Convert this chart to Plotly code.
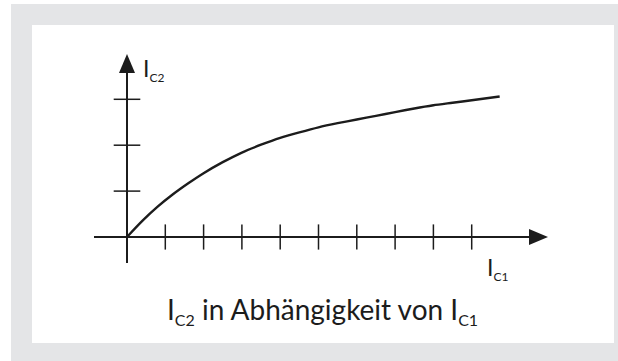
import plotly.graph_objects as go

# Characteristic curve I_C2 as a function of I_C1 (arbitrary units)
ic1_values = [0, 0.4, 0.8, 1.2, 1.6, 2.0, 2.5, 3.0, 3.5, 4.0, 4.5, 5.0, 5.5, 6.0, 6.5, 7.0, 7.5, 8.0, 8.5, 9.0, 9.73]
ic2_values = [0, 0.35, 0.66, 0.93, 1.17, 1.39, 1.63, 1.84, 2.01, 2.16, 2.28, 2.39, 2.48, 2.56, 2.64, 2.72, 2.80, 2.87, 2.925, 2.98, 3.06]

# Unlabelled tick marks on both axes
ic1_ticks = [1, 2, 3, 4, 5, 6, 7, 8, 9]
ic2_ticks = [1, 2, 3]


def sub(main, index, size):
    return f"{main}<sub><span style='font-size:{size}px'>{index}</span></sub>"


# Texts
y_label = sub("I", "C2", 12)
x_label = sub("I", "C1", 12)
caption = f"{sub('I', 'C2', 16)} in Abhängigkeit von {sub('I', 'C1', 16)}"

W, H = 618, 361
INK = "#1c1c1c"
FRAME = "#e4e5e7"

# pixel geometry of the coordinate system
ORIGIN_X, ORIGIN_Y = 127, 237      # px position of (0, 0)
SX, SY = 38.3, 45.9                # px per unit
x_range = [-ORIGIN_X / SX, (W - ORIGIN_X) / SX]
y_range = [-(H - ORIGIN_Y) / SY, ORIGIN_Y / SY]


def ux(px):
    """horizontal pixel offset -> data units"""
    return px / SX


def uy(px):
    """vertical pixel offset -> data units"""
    return px / SY


x_tip = x_range[0] + ux(548)
y_tip = y_range[1] - uy(54)
x_start = x_range[0] + ux(94)
y_start = y_range[1] - uy(263)
head_len, head_half = 19, 8

fig = go.Figure()

# curve
fig.add_trace(go.Scatter(
    x=ic1_values, y=ic2_values, mode="lines",
    line=dict(color=INK, width=2.4, shape="spline", smoothing=0.7),
    hoverinfo="skip", showlegend=False,
))
# tick marks
fig.add_trace(go.Scatter(
    x=ic1_ticks, y=[0] * len(ic1_ticks), mode="markers",
    marker=dict(symbol="line-ns", size=18, line=dict(color=INK, width=1.5)),
    hoverinfo="skip", showlegend=False,
))
fig.add_trace(go.Scatter(
    x=[0] * len(ic2_ticks), y=ic2_ticks, mode="markers",
    marker=dict(symbol="line-ew", size=19, line=dict(color=INK, width=1.5)),
    hoverinfo="skip", showlegend=False,
))

shapes = [
    # grey frame and white card
    dict(type="rect", xref="paper", yref="paper", x0=11 / W, x1=1, y0=0, y1=1 - 4 / H,
         fillcolor=FRAME, line=dict(width=0), layer="below"),
    dict(type="rect", xref="paper", yref="paper", x0=32 / W, x1=614 / W, y0=1 - 343 / H, y1=1 - 25 / H,
         fillcolor="white", line=dict(width=0), layer="below"),
    # axis lines
    dict(type="line", xref="x", yref="y", x0=x_start, x1=x_tip - ux(head_len) + ux(2), y0=0, y1=0,
         line=dict(color=INK, width=2)),
    dict(type="line", xref="x", yref="y", x0=0, x1=0, y0=y_start, y1=y_tip - uy(head_len) + uy(2),
         line=dict(color=INK, width=2)),
    # arrow heads
    dict(type="path", xref="x", yref="y",
         path=(f"M {x_tip} 0 L {x_tip - ux(head_len)} {uy(head_half)} "
               f"L {x_tip - ux(head_len)} {-uy(head_half)} Z"),
         fillcolor=INK, line=dict(width=0)),
    dict(type="path", xref="x", yref="y",
         path=(f"M 0 {y_tip} L {ux(head_half)} {y_tip - uy(head_len)} "
               f"L {-ux(head_half)} {y_tip - uy(head_len)} Z"),
         fillcolor=INK, line=dict(width=0)),
]

font = dict(family="Lato", color=INK)
annotations = [
    dict(text=y_label, x=ux(14), y=y_tip + uy(2), xref="x", yref="y",
         xanchor="left", yanchor="top", showarrow=False, font=dict(size=23, **font)),
    dict(text=x_label, x=ux(358), y=-uy(14), xref="x", yref="y",
         xanchor="left", yanchor="top", showarrow=False, font=dict(size=23, **font)),
    dict(text=caption, x=323 / W, y=1 - 290 / H, xref="paper", yref="paper",
         xanchor="center", yanchor="top", showarrow=False, font=dict(size=28, **font)),
]

fig.update_layout(
    width=W, height=H,
    margin=dict(l=0, r=0, t=0, b=0),
    paper_bgcolor="white", plot_bgcolor="rgba(0,0,0,0)",
    xaxis=dict(range=x_range, visible=False, fixedrange=True),
    yaxis=dict(range=y_range, visible=False, fixedrange=True),
    shapes=shapes, annotations=annotations,
    showlegend=False,
)

fig.write_html("out.html", config={"displayModeBar": False})
